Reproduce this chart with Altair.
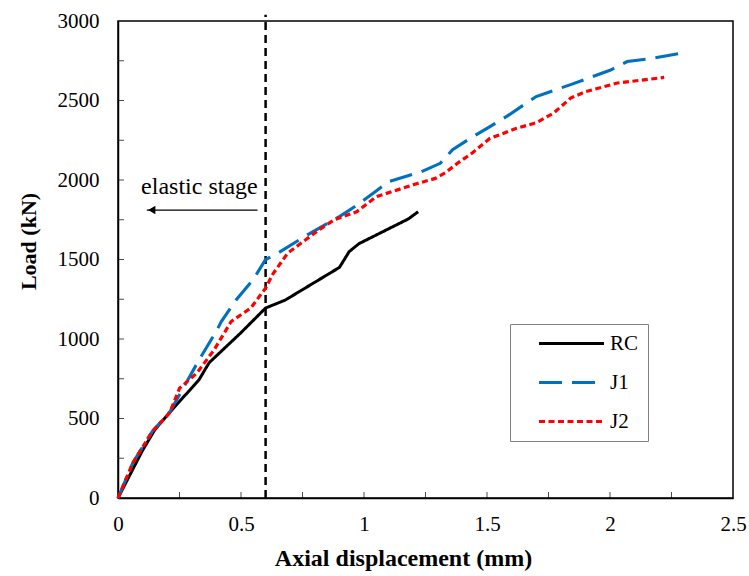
import altair as alt
import pandas as pd

# ---- data ----
RC_x = [0, 0.05, 0.1, 0.15, 0.22, 0.33, 0.37, 0.5, 0.6, 0.68, 0.9, 0.94, 0.98, 1.18, 1.22]
RC_y = [0, 150, 300, 430, 555, 745, 850, 1040, 1195, 1245, 1450, 1550, 1600, 1755, 1800]

J1_x = [0, 0.06, 0.14, 0.21, 0.33, 0.4, 0.42, 0.48, 0.55, 0.6, 0.65, 0.77, 0.9, 0.96,
        1.04, 1.1, 1.23, 1.31, 1.36, 1.44, 1.5, 1.58, 1.7, 1.84, 2.0, 2.07, 2.15, 2.3]
J1_y = [0, 220, 420, 540, 870, 1050, 1110, 1245, 1375, 1500, 1540, 1655, 1770, 1830,
        1920, 1990, 2050, 2105, 2190, 2270, 2325, 2400, 2525, 2600, 2690, 2745, 2760, 2800]

J2_x = [0, 0.06, 0.14, 0.21, 0.25, 0.32, 0.39, 0.46, 0.54, 0.6, 0.63, 0.69, 0.82, 0.88,
        0.97, 1.05, 1.21, 1.29, 1.33, 1.38, 1.44, 1.51, 1.62, 1.7, 1.77, 1.84, 1.9, 2.03, 2.22]
J2_y = [0, 220, 420, 535, 690, 785, 930, 1110, 1195, 1320, 1410, 1540, 1690, 1750,
        1800, 1895, 1975, 2010, 2045, 2105, 2170, 2260, 2325, 2360, 2420, 2515, 2555, 2610, 2645]

series_names = ["RC", "J1", "J2"]
series_colors = ["#000000", "#0070C0", "#FF0000"]
series_dashes = [[1, 0], [23, 10], [6, 3.5]]

x_label_values = [0, 0.5, 1, 1.5, 2, 2.5]
y_label_values = [0, 500, 1000, 1500, 2000, 2500, 3000]
x_minor_ticks = [0.25, 0.5, 0.75, 1, 1.25, 1.5, 1.75, 2, 2.25]
y_minor_ticks = [250, 500, 750, 1000, 1250, 1500, 1750, 2000, 2250, 2500, 2750]

elastic_limit = [0.6]
elastic_top = [3040]
arrow_from = [0.567]
arrow_to = [0.117]
arrow_level = [1811]
annot_text = ["elastic stage"]
annot_x = [0.568]
annot_y = [1912]

FONT = "Liberation Serif"

rows = []
for name, xs, ys in [("RC", RC_x, RC_y), ("J1", J1_x, J1_y), ("J2", J2_x, J2_y)]:
    for i, (a, b) in enumerate(zip(xs, ys)):
        rows.append({"series": name, "x": a, "y": b, "i": i})
df = pd.DataFrame(rows)

xscale = alt.Scale(domain=[0, 2.5], nice=False, zero=False)
yscale = alt.Scale(domain=[0, 3000], nice=False, zero=False)

xaxis = alt.Axis(values=x_label_values, format="~g", ticks=False, grid=False, labelPadding=15,
                 labelFontSize=21, labelFont=FONT, labelColor="black",
                 title="Axial displacement (mm)", titleFont=FONT, titleFontSize=24,
                 titleFontWeight="bold", titleColor="black", titleX=285, titleY=67,
                 titleBaseline="alphabetic", titleAlign="center",
                 domainColor="black", domainWidth=1.5, labelFlush=False)
yaxis = alt.Axis(values=y_label_values, format="d", ticks=False, grid=False, labelPadding=19,
                 labelFontSize=21, labelFont=FONT, labelColor="black",
                 title="Load (kN)", titleFont=FONT, titleFontSize=22,
                 titleFontWeight="bold", titleColor="black", titleX=-90, titleY=220,
                 titleBaseline="middle", titleAlign="center", titleAngle=-90,
                 domainColor="black", domainWidth=1.5, labelFlush=False)

pad_chars = "\u2003"
lines = alt.Chart(df).mark_line(clip=False).encode(
    x=alt.X("x:Q", scale=xscale, axis=xaxis),
    y=alt.Y("y:Q", scale=yscale, axis=yaxis),
    color=alt.Color("series:N", scale=alt.Scale(domain=series_names, range=series_colors),
                    legend=alt.Legend(title=None, orient="none", legendX=392, legendY=303,
                                      symbolType="M-5,0H5", symbolSize=169,
                                      symbolStrokeWidth=3, symbolOffset=42,
                                      labelFont=FONT, labelFontSize=21, labelColor="black",
                                      labelExpr="datum.label + '" + pad_chars + "'",
                                      rowPadding=17, padding=9, strokeColor="#808080",
                                      labelOffset=28)),
    strokeDash=alt.StrokeDash("series:N",
                              scale=alt.Scale(domain=series_names, range=series_dashes),
                              legend=None),
    strokeWidth=alt.StrokeWidth("series:N",
                                scale=alt.Scale(domain=series_names, range=[3, 3.2, 2.6]),
                                legend=None),
    order="i:Q",
)

vline_df = pd.DataFrame({"x": elastic_limit, "y0": [0], "y1": elastic_top})
vline = alt.Chart(vline_df).mark_rule(color="black", strokeWidth=2.5, strokeDash=[8, 5]).encode(
    x="x:Q", y="y0:Q", y2="y1:Q")

arrow_df = pd.DataFrame({"x0": arrow_from, "x1": arrow_to, "y": arrow_level})
arrow_line = alt.Chart(arrow_df).mark_rule(color="black", strokeWidth=1.2).encode(
    x="x0:Q", x2="x1:Q", y="y:Q")
arrow_head = alt.Chart(arrow_df).mark_point(shape="triangle-left", filled=True, color="black",
                                            size=70, opacity=1, xOffset=5).encode(
    x="x1:Q", y="y:Q")

text_df = pd.DataFrame({"t": annot_text, "x": annot_x, "y": annot_y})
annot = alt.Chart(text_df).mark_text(font=FONT, fontSize=24, align="right",
                                     baseline="alphabetic", color="black").encode(
    x="x:Q", y="y:Q", text="t:N")

xt_df = pd.DataFrame({"v": x_minor_ticks})
xticks = alt.Chart(xt_df).mark_tick(orient="vertical", size=6, thickness=1,
                                    color="black", yOffset=-3).encode(
    x="v:Q", y=alt.datum(0))
yt_df = pd.DataFrame({"v": y_minor_ticks})
yticks = alt.Chart(yt_df).mark_tick(orient="horizontal", size=6, thickness=1,
                                    color="black", xOffset=3).encode(
    y="v:Q", x=alt.datum(0))

chart = alt.layer(vline, arrow_line, arrow_head, annot, xticks, yticks, lines).properties(
    width=615, height=477,
    autosize=alt.AutoSizeParams(type="none"),
    padding={"left": 118, "top": 21, "right": 16, "bottom": 78},
    background="white",
).configure_view(stroke="black", strokeWidth=1.5
).configure_axis(labelFont=FONT, titleFont=FONT
).configure_legend(labelFont=FONT
).configure_text(font=FONT)

chart.save("out.html", embed_options={"renderer": "svg", "actions": False})
